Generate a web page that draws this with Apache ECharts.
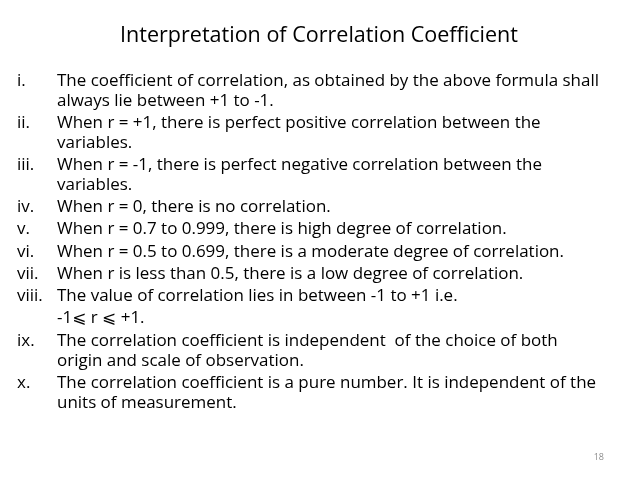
<!DOCTYPE html>
<html>
<head>
<meta charset="utf-8">
<script src="https://cdn.jsdelivr.net/npm/echarts@6/dist/echarts.min.js"></script>
<style>
    html, body { margin: 0; padding: 0; background: #fff; }
    #main { width: 638px; height: 479px; }
</style>
</head>
<body>
<div id="main"></div>
<script>
// 幻灯片文字内容
const titleText = 'Interpretation of Correlation Coefficient';
const numerals = ['i.', 'ii.', 'iii.', 'iv.', 'v.', 'vi.', 'vii.', 'viii.', '', 'ix.', 'x.'];
const itemLines = [
    ['The coefficient of correlation, as obtained by the above formula shall', 'always lie between +1 to -1.'],
    ['When r = +1, there is perfect positive correlation between the', 'variables.'],
    ['When r = -1, there is perfect negative correlation between the', 'variables.'],
    ['When r = 0, there is no correlation.'],
    ['When r = 0.7 to 0.999, there is high degree of correlation.'],
    ['When r = 0.5 to 0.699, there is a moderate degree of correlation.'],
    ['When r is less than 0.5, there is a low degree of correlation.'],
    ['The value of correlation lies in between -1 to +1 i.e.'],
    ['-1\u2A7D r \u2A7D +1.'],
    ['The correlation coefficient is independent  of the choice of both', 'origin and scale of observation.'],
    ['The correlation coefficient is a pure number. It is independent of the', 'units of measurement.']
];
const pageNumber = '18';

// 版式参数
const fontFamily = '"Open Sans", "DejaVu Sans", sans-serif';
const bodySize = 16.5;
const titleSize = 22.5;
const firstY = 81;
const wrapGap = 19.9;
const itemGap = 22.25;
const numX = 17;
const textX = 57;
const firstLineWidth = 542;   // 参考图中第一行的宽度
const titleWidth = 398;

// 用画布量字宽，求横向压缩比例（模拟 Calibri 的窄字形）
function measure(text, font) {
    const ctx = document.createElement('canvas').getContext('2d');
    ctx.font = font;
    return ctx.measureText(text).width;
}
const bodyFont = bodySize + 'px ' + fontFamily;
const titleFont = titleSize + 'px ' + fontFamily;
const bodyScale = firstLineWidth / measure(itemLines[0][0], bodyFont);
const titleScale = titleWidth / measure(titleText, titleFont);

function textEl(text, x, y, font, scale, extra) {
    return {
        type: 'text',
        x: x,
        y: y,
        scaleX: scale,
        style: Object.assign({
            text: text,
            fill: '#000',
            font: font,
            textAlign: 'left',
            textVerticalAlign: 'middle'
        }, extra || {})
    };
}

function buildElements() {
    const els = [];

    els.push(textEl(titleText, 319, 36, titleFont, titleScale, { textAlign: 'center' }));

    let y = firstY;
    itemLines.forEach((lines, i) => {
        if (numerals[i]) {
            els.push(textEl(numerals[i], numX, y, bodyFont, bodyScale));
        }
        lines.forEach((line, j) => {
            els.push(textEl(line, textX, y + j * wrapGap, bodyFont, bodyScale));
        });
        y += (lines.length - 1) * wrapGap + itemGap;
    });

    els.push(textEl(pageNumber, 604, 457, '9px ' + fontFamily, 1, {
        fill: '#8c8c8c',
        textAlign: 'right'
    }));

    return els;
}

const myChart = echarts.init(document.getElementById('main'));
myChart.setOption({
    backgroundColor: '#fff',
    graphic: { elements: buildElements() }
});

window.addEventListener('resize', function() {
    myChart.resize();
});
</script>
</body>
</html>
